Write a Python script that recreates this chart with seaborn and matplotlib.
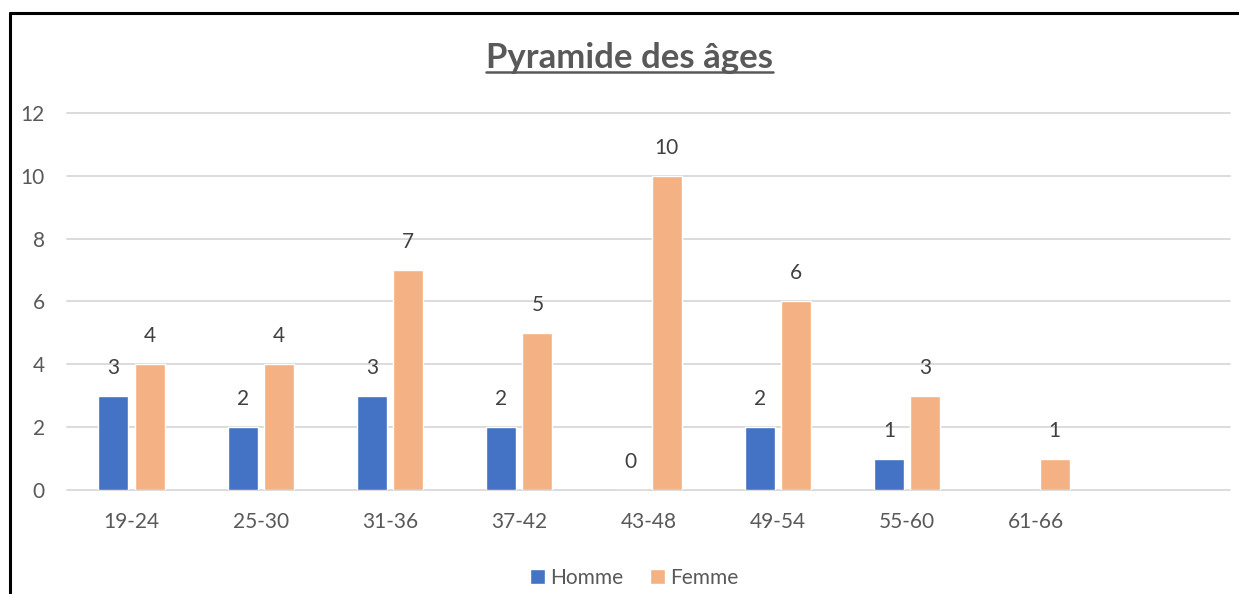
import pandas as pd
import numpy as np
import seaborn as sns
import matplotlib.pyplot as plt
from matplotlib.lines import Line2D

sns.set_theme(style="white")
plt.rcParams["font.family"] = ["Lato", "DejaVu Sans"]

# Chart data
age_groups = ["19-24", "25-30", "31-36", "37-42", "43-48", "49-54", "55-60", "61-66"]
homme = [3, 2, 3, 2, 0, 2, 1, np.nan]
femme = [4, 4, 7, 5, 10, 6, 3, 1]
y_ticks = [0, 2, 4, 6, 8, 10, 12]

df = pd.concat(
    [
        pd.DataFrame({"age": age_groups, "sexe": "Homme", "n": homme}),
        pd.DataFrame({"age": age_groups, "sexe": "Femme", "n": femme}),
    ]
).dropna()

text_grey = "#595959"
label_grey = "#404040"

fig = plt.figure(figsize=(12.39, 5.94), dpi=100)
ax = fig.add_axes([0.054, 0.175, 0.939, 0.635])

sns.barplot(
    data=df,
    x="age",
    y="n",
    hue="sexe",
    order=age_groups,
    hue_order=["Homme", "Femme"],
    palette=["#4472C4", "#F4B183"],
    width=0.56,
    gap=0.17,
    saturation=1,
    legend=True,
    ax=ax,
    zorder=3,
)

for cont in ax.containers:
    ax.bar_label(cont, fmt="%g", padding=13, fontsize=15, color=label_grey)

# one empty slot on the right like the original sheet
ax.set_xlim(-0.5, len(age_groups) + 0.5)
ax.set_ylim(0, 12)
ax.set_yticks(y_ticks)
ax.set_xlabel("")
ax.set_ylabel("")
for s in ax.spines.values():
    s.set_visible(False)
ax.grid(False)
for t in y_ticks:
    ax.axhline(t, color="#D9D9D9", lw=1.3, zorder=1, clip_on=False)
ax.tick_params(axis="y", length=0, pad=16, labelsize=15, labelcolor=text_grey)
ax.tick_params(axis="x", length=0, pad=16, labelsize=15, labelcolor=text_grey)

handles, labels = ax.get_legend_handles_labels()
ax.get_legend().remove()
fig.legend(
    handles,
    labels,
    loc="center",
    bbox_to_anchor=(0.512, 0.027),
    ncol=2,
    frameon=False,
    fontsize=15,
    labelcolor=text_grey,
    handlelength=0.7,
    handleheight=0.7,
    handletextpad=0.25,
    columnspacing=1.3,
)

# title with underline
title = fig.text(
    0.508, 1 - 58 / 594, "Pyramide des âges",
    ha="center", va="center", fontsize=25, fontweight="bold", color=text_grey,
)
fig.canvas.draw()
bb = title.get_window_extent().transformed(fig.transFigure.inverted())
fig.add_artist(Line2D([bb.x0, bb.x1], [bb.y0 + 0.003, bb.y0 + 0.003],
                     color=text_grey, lw=1.8))

# frame of the screenshot (cut on right / bottom)
fig.add_artist(Line2D([10 / 1239, 1], [1 - 13 / 594, 1 - 13 / 594], color="black", lw=2.2))
fig.add_artist(Line2D([10 / 1239, 10 / 1239], [0, 1 - 13 / 594], color="black", lw=2.2))

fig.savefig("out.png", dpi=100)
